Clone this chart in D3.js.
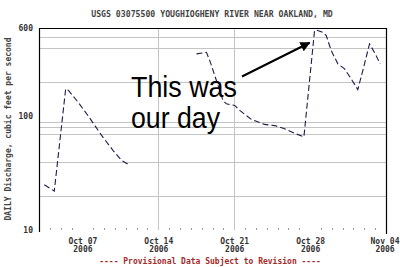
<!DOCTYPE html>
<html>
<head>
<meta charset="utf-8">
<script src="https://cdn.jsdelivr.net/npm/d3@7"></script>
<style>
  body { margin: 0; background: #fff; }
  svg { display: block; }
  .mono { font-family: "DejaVu Sans Mono", "Liberation Mono", monospace; font-weight: bold; }
</style>
</head>
<body>
<div id="chart"></div>
<script>
// Flow data (day of October 2006, days > 31 run into November)
var seg1Day = [3.49, 4.41, 5.46, 5.70, 6.62, 7.70, 8.77, 9.84, 10.61, 11.38];
var seg1Flow = [25, 22, 175, 170, 133, 96, 68, 50, 41, 37];

var seg2Day = [17.52, 18.44, 18.75, 19.36, 19.97, 20.28, 21.05, 21.51, 22.59, 23.81, 24.73,
  25.65, 26.57, 27.43, 28.41, 28.57, 29.18, 29.49, 29.95, 30.56, 31.18, 31.79, 32.40,
  32.86, 33.48, 33.94, 34.46];
var seg2Flow = [355, 366, 310, 207, 138, 129, 125, 113, 94, 85, 83, 78, 71, 66, 568, 576,
  549, 514, 379, 290, 262, 214, 172, 253, 434, 366, 290];

// Axis stuff
var tickDays = [7, 14, 21, 28, 35];
var gridDays = [14, 21];
var yTicks = [10, 100, 600];
var yGrid = [20, 40, 70, 80, 90, 200, 400, 500];

var title = 'USGS 03075500 YOUGHIOGHENY RIVER NEAR OAKLAND, MD';
var yTitle = 'DAILY Discharge, cubic feet per second';
var footer = '---- Provisional Data Subject to Revision ----';
var note = ['This was', 'our day'];

// day of October -> Date (UTC)
function toDate(d) {
  return new Date(Date.UTC(2006, 9, 1) + (d - 1) * 864e5);
}

var width = 400, height = 267;
var svg = d3.select('#chart').append('svg')
  .attr('width', width)
  .attr('height', height);

var x = d3.scaleUtc()
  .domain([toDate(3), toDate(35)])
  .range([39, 386]);

var y = d3.scaleLog()
  .domain([10, 600])
  .range([230, 28]);

// horizontal grid
svg.append('g').selectAll('line')
  .data(yGrid)
  .enter().append('line')
    .attr('x1', x.range()[0])
    .attr('x2', x.range()[1])
    .attr('y1', function(d) { return Math.round(y(d)) + 0.5; })
    .attr('y2', function(d) { return Math.round(y(d)) + 0.5; })
    .style('stroke', '#c4c4c4')
    .style('stroke-width', 1);

// vertical grid
svg.append('g').selectAll('line')
  .data(gridDays)
  .enter().append('line')
    .attr('x1', function(d) { return Math.round(x(toDate(d))) + 0.5; })
    .attr('x2', function(d) { return Math.round(x(toDate(d))) + 0.5; })
    .attr('y1', y(600))
    .attr('y2', y(10))
    .style('stroke', '#c4c4c4')
    .style('stroke-width', 1);

// little daily ticks along the bottom
var minorDays = d3.range(4, 35).filter(function(d) { return tickDays.indexOf(d) < 0; });
svg.append('g').selectAll('rect')
  .data(minorDays)
  .enter().append('rect')
    .attr('x', function(d) { return Math.round(x(toDate(d))); })
    .attr('y', 228)
    .attr('width', 1)
    .attr('height', 2)
    .style('fill', '#999');

// frame (left, top, right)
var x0 = x.range()[0], x1 = x.range()[1];
svg.append('path')
  .attr('d', 'M' + (x0 + 0.5) + ',' + (y(10) + 2) + 'V' + (y(600) + 0.5) +
    'H' + (x1 + 0.5) + 'V' + (y(10) + 4))
  .style('fill', 'none')
  .style('stroke', '#000')
  .style('stroke-width', 1.2);

// flow line, two pieces with a data gap
var line = d3.line()
  .x(function(d) { return x(toDate(d[0])); })
  .y(function(d) { return y(d[1]); });

[[seg1Day, seg1Flow], [seg2Day, seg2Flow]].forEach(function(s) {
  svg.append('path')
    .datum(d3.zip(s[0], s[1]))
    .attr('d', line)
    .style('fill', 'none')
    .style('stroke', '#1c1c4e')
    .style('stroke-width', 1.1)
    .style('stroke-dasharray', '6,3');
});

// y axis labels
var yAxis = d3.axisLeft(y)
  .tickValues(yTicks)
  .tickSize(0)
  .tickPadding(6)
  .tickFormat(d3.format('d'));

svg.append('g')
  .attr('transform', 'translate(' + x0 + ',0)')
  .call(yAxis)
  .call(function(g) { g.select('.domain').remove(); })
  .selectAll('text')
    .attr('class', 'mono')
    .style('font-size', '8px')
    .style('fill', '#333');

// x axis labels
var xAxis = d3.axisBottom(x)
  .tickValues(tickDays.map(toDate))
  .tickSize(0)
  .tickPadding(8)
  .tickFormat(d3.utcFormat('%b %d'));

var gx = svg.append('g')
  .attr('transform', 'translate(0,' + y(10) + ')')
  .call(xAxis)
  .call(function(g) { g.select('.domain').remove(); });

gx.selectAll('text')
  .attr('class', 'mono')
  .style('font-size', '8px')
  .style('fill', '#333')
  .each(function() {
    d3.select(this).append('tspan')
      .attr('x', 0)
      .attr('dy', '1.05em')
      .text('2006');
  });

// last label would run off the edge, nudge it in
gx.selectAll('.tick:last-of-type text').attr('x', -1.5);
gx.selectAll('.tick:last-of-type text tspan').attr('x', -1.5);

// title
svg.append('text')
  .attr('class', 'mono')
  .attr('x', 212)
  .attr('y', 16.5)
  .attr('text-anchor', 'middle')
  .style('font-size', '8.2px')
  .style('fill', '#444')
  .text(title);

// y title
svg.append('text')
  .attr('class', 'mono')
  .attr('transform', 'translate(11,129) rotate(-90)')
  .attr('text-anchor', 'middle')
  .style('font-size', '8px')
  .style('fill', '#444')
  .text(yTitle);

// footer
svg.append('text')
  .attr('class', 'mono')
  .attr('x', 210)
  .attr('y', 264)
  .attr('text-anchor', 'middle')
  .style('font-size', '8px')
  .style('fill', '#a52a2a')
  .text(footer);

// annotation
svg.append('defs').append('marker')
  .attr('id', 'head')
  .attr('viewBox', '0 0 10 10')
  .attr('refX', 9)
  .attr('refY', 5)
  .attr('markerWidth', 5)
  .attr('markerHeight', 5)
  .attr('orient', 'auto')
  .append('path')
    .attr('d', 'M0,0L10,5L0,10z')
    .style('fill', '#000');

svg.append('line')
  .attr('x1', 242)
  .attr('y1', 76.5)
  .attr('x2', x(toDate(27.95)))
  .attr('y2', y(445))
  .style('stroke', '#000')
  .style('stroke-width', 2)
  .attr('marker-end', 'url(#head)');

svg.append('g').selectAll('text')
  .data(note)
  .enter().append('text')
    .attr('x', 131)
    .attr('y', function(d, i) { return 96.5 + i * 31.5; })
    .attr('textLength', function(d, i) { return i === 0 ? 106 : 89; })
    .attr('lengthAdjust', 'spacingAndGlyphs')
    .style('font-family', '"Liberation Sans", Arial, sans-serif')
    .style('font-size', '30px')
    .style('fill', '#000')
    .text(function(d) { return d; });
</script>
</body>
</html>
